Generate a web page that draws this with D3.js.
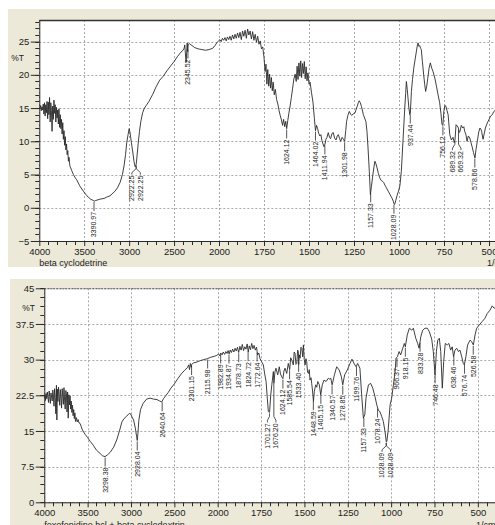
<!DOCTYPE html>
<html>
<head>
<meta charset="utf-8">
<script src="https://cdn.jsdelivr.net/npm/d3@7"></script>
<style>
  body { margin: 0; background: #fff; }
  svg { display: block; }
  text { font-family: "Liberation Sans", Arial, sans-serif; fill: #222; }
</style>
</head>
<body>
<svg id="chart" width="495" height="525"></svg>
<script>
// Wavenumber axis: 4000-2000 at half scale, 2000-400 at full scale
const wavenumberBreaks = [4000, 2000, 400];
const xTickValues = [4000, 3500, 3000, 2500, 2000, 1750, 1500, 1250, 1000, 750, 500];
const topYTicks = [-5, 0, 5, 10, 15, 20, 25];
const bottomYTicks = [0, 7.5, 15, 22.5, 30, 37.5, 45];
const topTitle = "beta cyclodetrine";
const bottomTitle = "fexofenidine hcl + beta cyclodextrin";
const axisUnit = "1/cm";
const yUnit = "%T";

// beta cyclodextrin spectrum: [wavenumber, %T]
const betaCdSpectrum = [
  [4000,15.1],[3992,14.9],[3985,15.4],[3978,14.6],[3970,15.2],[3963,14.7],[3956,15.6],[3949,14.1],[3942,15.8],[3935,13.8],
  [3928,15.5],[3921,14.3],[3914,16.0],[3907,13.4],[3900,15.9],[3893,14.0],[3886,16.6],[3879,12.9],[3872,15.8],[3865,14.6],
  [3858,11.5],[3851,15.3],[3844,13.3],[3837,16.2],[3830,14.2],[3823,15.5],[3816,12.9],[3809,15.1],[3802,13.5],[3795,14.7],
  [3788,12.6],[3781,14.9],[3774,12.1],[3767,14.0],[3760,11.9],[3753,13.3],[3746,11.1],[3739,12.8],[3732,10.3],[3725,11.6],
  [3718,9.4],[3711,10.7],[3704,8.7],[3697,9.6],[3690,8.0],[3683,8.6],[3676,7.0],[3669,7.6],[3660,6.3],[3650,6.0],
  [3640,5.6],[3620,5.0],[3600,4.5],[3583,4.2],[3550,3.3],[3510,2.5],[3470,1.8],[3430,1.3],[3400,1.1],[3388,1.0],
  [3370,1.1],[3324,1.3],[3280,1.4],[3250,1.6],[3213,1.8],[3157,2.5],[3130,3.0],[3101,3.8],[3075,5.0],[3057,6.3],
  [3040,8.0],[3027,9.8],[3012,11.0],[3000,11.9],[2990,11.3],[2975,9.8],[2960,8.4],[2945,6.9],[2934,6.2],[2922,6.5],
  [2912,7.8],[2900,9.6],[2885,11.5],[2870,13.0],[2850,14.3],[2830,15.0],[2809,15.4],[2780,16.0],[2740,17.0],[2700,18.2],
  [2660,19.2],[2620,19.8],[2580,20.6],[2540,21.3],[2500,22.0],[2460,22.8],[2425,23.4],[2400,23.7],[2388,24.0],[2381,24.5],
  [2376,23.6],[2370,22.4],[2365,21.9],[2360,23.3],[2354,24.8],[2348,23.5],[2342,24.6],[2330,24.7],[2300,24.4],[2270,24.1],
  [2230,23.9],[2190,23.8],[2150,23.7],[2110,23.8],[2070,24.0],[2045,24.4],[2020,24.9],[2005,25.1],
  [1995,25.3],[1988,25.0],[1981,25.5],[1974,25.2],[1967,25.6],[1960,25.1],[1953,25.7],[1946,25.3],[1939,25.8],[1932,25.2],
  [1925,26.0],[1918,25.4],[1911,26.1],[1904,25.5],[1897,26.3],[1890,25.6],[1883,26.4],[1876,25.3],[1869,26.6],[1862,25.8],
  [1855,26.7],[1848,25.5],[1841,26.9],[1834,26.0],[1827,26.6],[1820,25.4],[1813,26.5],[1806,25.2],[1799,26.1],[1792,24.9],
  [1785,25.8],[1778,24.6],[1771,25.1],[1764,23.9],[1757,24.2],[1750,22.6],[1744,20.5],[1739,21.6],[1734,18.6],[1729,20.8],
  [1724,18.3],[1719,20.1],[1714,18.0],[1709,19.6],[1704,17.6],[1699,18.9],[1693,17.0],[1687,17.8],[1680,16.3],[1673,15.6],
  [1666,14.6],[1660,13.9],[1653,13.2],[1647,12.4],[1641,13.3],[1635,12.2],[1629,13.0],[1624,11.9],[1618,13.1],[1612,14.2],
  [1605,15.3],[1598,16.6],[1591,18.0],[1584,19.4],[1577,20.1],[1571,19.0],[1566,21.3],[1561,19.3],[1556,21.8],[1551,19.8],
  [1546,22.1],[1541,19.6],[1536,21.7],[1531,20.2],[1526,22.0],[1521,19.4],[1516,21.2],[1511,19.1],[1506,20.3],[1500,18.6],
  [1494,18.9],[1486,17.3],[1478,15.9],[1470,13.4],[1464,11.6],[1458,12.4],[1452,11.9],[1446,11.2],[1440,10.8],[1434,11.0],
  [1428,10.1],[1422,9.6],[1417,9.2],[1411,9.6],[1406,10.3],[1400,10.6],[1393,11.3],[1386,10.6],[1380,10.4],[1372,11.2],
  [1365,11.3],[1358,10.5],[1350,10.2],[1343,10.8],[1337,11.0],[1330,10.4],[1324,10.0],[1316,10.6],[1309,10.3],[1302,10.0],
  [1296,11.6],[1291,13.0],[1284,13.9],[1276,14.5],[1269,14.1],[1263,13.9],[1255,14.1],[1244,14.3],[1238,14.8],[1232,15.3],
  [1226,15.8],[1221,16.1],[1215,15.8],[1208,15.2],[1198,14.0],[1184,13.0],[1178,11.5],[1172,9.0],[1165,5.5],[1159,2.0],
  [1153,3.2],[1147,4.6],[1140,6.0],[1134,7.0],[1128,6.6],[1122,6.0],[1115,5.2],[1107,4.5],[1099,4.1],[1092,4.0],
  [1085,3.8],[1078,3.4],[1070,3.0],[1060,2.5],[1050,2.0],[1040,1.5],[1032,1.0],[1028,0.6],[1024,0.5],[1018,1.1],
  [1011,1.8],[1003,2.5],[995,3.3],[987,5.5],[978,10.0],[968,15.0],[963,17.2],[959,19.0],[954,17.8],[950,16.5],
  [945,15.0],[940,14.0],[937,14.2],[931,17.5],[925,19.3],[918,21.0],[910,22.4],[903,23.6],[897,24.6],[894,24.8],
  [890,24.3],[885,24.4],[880,24.0],[876,23.8],[870,22.0],[863,20.0],[857,18.5],[852,17.5],[846,18.3],[840,19.5],
  [833,21.0],[826,21.8],[818,21.0],[811,20.5],[800,19.4],[792,18.3],[783,17.0],[774,15.8],[767,14.2],[761,12.5],
  [756,12.4],[751,14.5],[745,15.4],[740,15.3],[733,14.6],[727,14.0],[718,11.0],[709,10.2],[700,10.6],[693,9.8],
  [689,10.2],[683,12.5],[676,12.3],[670,12.0],[666,11.3],[661,11.5],[654,12.4],[646,12.0],[640,12.2],[635,11.5],
  [628,11.0],[622,10.0],[615,10.8],[607,10.5],[600,9.8],[594,9.2],[586,8.3],[578,7.5],[572,8.8],[565,10.0],
  [557,11.4],[550,12.0],[545,11.8],[541,11.5],[533,10.3],[526,11.2],[520,12.0],[512,12.6],[505,13.0],[491,13.8],
  [482,14.0],[473,14.5],[450,15.0],[420,15.5],[400,15.8]
];

const betaCdPeaks = ["3390.97","2922.25","2922.25","2345.52","1624.12","1464.02","1411.94","1301.98",
  "1157.33","1028.09","937.44","756.12","689.32","669.32","578.66"];

// fexofenadine HCl + beta cyclodextrin spectrum: [wavenumber, %T]
const blendSpectrum = [
  [4000,21.9],[3993,22.6],[3986,21.4],[3979,22.9],[3972,21.8],[3965,23.2],[3958,22.0],[3951,21.0],[3944,23.4],[3937,22.3],
  [3930,20.8],[3923,23.0],[3916,22.1],[3909,21.3],[3902,23.6],[3895,22.4],[3888,20.2],[3881,23.9],[3874,22.0],[3867,18.6],
  [3860,24.6],[3855,17.3],[3850,23.8],[3843,21.2],[3836,24.2],[3829,22.5],[3822,20.4],[3815,23.7],[3808,21.9],[3801,19.8],
  [3794,23.9],[3787,22.2],[3780,20.6],[3773,24.1],[3766,21.5],[3759,19.6],[3752,23.5],[3745,22.8],[3738,19.0],[3731,23.2],
  [3724,17.7],[3717,22.6],[3710,20.5],[3703,22.4],[3696,19.6],[3689,21.3],[3682,18.9],[3675,20.4],[3668,18.2],[3661,19.5],
  [3654,17.6],[3647,18.8],[3640,17.0],[3630,17.8],[3620,16.9],[3610,17.4],[3600,16.7],[3588,16.6],[3560,15.2],[3530,14.3],
  [3500,13.6],[3470,12.8],[3435,12.0],[3400,11.0],[3358,10.3],[3330,9.8],[3300,9.6],[3270,10.0],[3240,10.5],[3200,11.6],
  [3165,13.1],[3130,15.2],[3105,16.9],[3080,17.6],[3050,18.1],[3020,18.7],[3005,18.6],[2990,18.0],[2970,17.3],[2950,15.6],
  [2935,13.8],[2928,13.0],[2920,14.5],[2910,17.2],[2890,19.5],[2860,20.8],[2820,21.7],[2780,21.9],[2740,21.7],[2700,21.6],
  [2670,21.3],[2645,21.1],[2625,21.8],[2600,22.4],[2570,23.1],[2540,24.0],[2500,24.9],[2460,26.0],[2420,27.0],[2380,27.8],
  [2350,28.3],[2335,28.9],[2325,27.9],[2315,29.2],[2305,28.4],[2300,29.0],[2280,29.3],[2240,29.5],[2200,29.8],[2160,30.0],
  [2120,30.2],[2080,30.5],[2040,30.7],[2010,30.9],
  [1995,31.2],[1988,30.8],[1982,31.4],[1975,31.0],[1968,31.6],[1960,31.1],[1953,31.7],[1946,31.3],[1940,31.9],[1934,31.2],
  [1928,32.0],[1921,31.5],[1914,32.2],[1907,31.6],[1900,32.4],[1893,31.8],[1886,32.6],[1879,31.5],[1872,32.8],[1865,32.0],
  [1858,33.2],[1851,31.9],[1844,32.7],[1837,32.2],[1830,33.3],[1824,31.6],[1818,32.9],[1811,32.1],[1804,33.4],[1797,32.3],
  [1790,33.0],[1783,32.0],[1776,32.6],[1770,31.0],[1763,31.4],[1756,30.2],[1747,29.6],[1737,28.9],[1729,27.0],[1721,25.4],
  [1714,21.9],[1708,19.1],[1701,18.9],[1694,22.6],[1688,24.7],[1679,27.5],[1676,25.0],[1670,27.4],[1664,28.2],[1654,26.8],
  [1645,28.5],[1638,27.0],[1631,26.4],[1624,26.0],[1618,27.6],[1612,28.2],[1602,27.1],[1593,29.2],[1585,27.9],[1579,30.4],
  [1573,29.9],[1564,28.9],[1559,31.6],[1554,31.3],[1549,29.0],[1544,29.2],[1539,32.0],[1535,31.7],[1533,29.0],[1529,31.0],
  [1525,30.3],[1520,32.6],[1515,32.4],[1510,30.6],[1506,33.1],[1501,30.0],[1496,28.9],[1491,30.2],[1487,29.6],[1482,27.4],
  [1477,27.1],[1472,27.9],[1468,25.7],[1462,26.2],[1458,25.0],[1453,23.4],[1448,21.2],[1443,23.3],[1435,24.7],[1429,24.2],
  [1423,25.4],[1414,24.7],[1406,22.6],[1397,24.7],[1387,25.7],[1375,25.4],[1362,26.1],[1354,25.9],[1348,26.1],[1340,24.7],
  [1327,26.8],[1314,28.5],[1299,27.8],[1287,26.4],[1279,24.7],[1268,26.8],[1253,27.8],[1237,29.2],[1226,30.1],[1214,29.2],
  [1202,28.5],[1193,29.2],[1180,28.2],[1170,22.6],[1160,17.7],[1152,18.4],[1145,21.9],[1131,24.7],[1118,25.0],[1106,24.0],
  [1093,22.2],[1083,20.5],[1074,19.4],[1064,19.0],[1054,18.0],[1045,17.0],[1035,14.8],[1028,12.7],[1025,12.8],[1018,14.8],
  [1006,20.5],[997,21.9],[987,24.7],[977,27.5],[972,30.3],[964,30.6],[954,31.7],[945,31.0],[933,32.4],[924,33.4],
  [918,32.7],[907,35.2],[895,36.6],[881,36.2],[872,36.6],[858,34.5],[847,33.4],[839,32.4],[829,34.8],[818,36.2],
  [805,36.6],[791,36.6],[780,35.9],[766,34.3],[757,31.7],[747,26.8],[739,31.7],[731,34.1],[722,34.5],[714,31.7],
  [705,24.0],[697,29.6],[688,33.4],[676,33.1],[667,33.4],[657,32.0],[648,32.7],[640,30.6],[632,32.0],[622,32.4],
  [612,31.7],[603,32.0],[593,30.6],[584,29.2],[578,28.9],[569,30.6],[559,33.1],[545,34.1],[536,33.8],[526,33.1],
  [516,35.2],[507,36.6],[492,37.3],[475,38.0],[459,38.7],[446,39.7],[430,40.4],[417,41.3],[406,40.8],[400,41.0]
];

const blendPeaks = ["3298.38","2928.04","2640.64","2301.15","2115.98","1982.89","1934.87","1878.73","1824.72",
  "1772.64","1701.27","1676.20","1624.12","1585.54","1533.40","1448.59","1405.15","1340.57","1278.85","1199.76",
  "1157.33","1078.24","1028.09","1028.09","966.37","918.15","833.28","746.48","638.46","576.74","526.58"];

const svg = d3.select("#chart");
const PANEL_BG = "#ECE9D8";
const LINE = "#2a2a2a";

function drawPanel(cfg) {
  const g = svg.append("g");
  g.append("rect").attr("x", cfg.bgX).attr("y", cfg.bgY)
    .attr("width", 495 - cfg.bgX + 20).attr("height", cfg.bgH).attr("fill", PANEL_BG);

  const x = d3.scaleLinear().domain(wavenumberBreaks).range(cfg.xRange);
  const y = d3.scaleLinear().domain(cfg.yDomain).range([cfg.bottom, cfg.top]);
  const left = cfg.xRange[0];
  const right = cfg.xRange[2];

  // plotting area
  g.append("rect").attr("x", left).attr("y", cfg.top)
    .attr("width", right - left).attr("height", cfg.bottom - cfg.top).attr("fill", "#fff");

  // dashed grid
  const grid = g.append("g").attr("stroke", "#a8a8a8").attr("stroke-dasharray", "2,2").attr("stroke-width", 1);
  xTickValues.forEach(v => {
    grid.append("line").attr("x1", Math.round(x(v)) + 0.5).attr("x2", Math.round(x(v)) + 0.5)
      .attr("y1", cfg.top).attr("y2", cfg.bottom);
  });
  cfg.yTicks.forEach(v => {
    grid.append("line").attr("x1", left).attr("x2", right)
      .attr("y1", Math.round(y(v)) + 0.5).attr("y2", Math.round(y(v)) + 0.5);
  });

  // spectrum trace
  const clipId = "clip" + cfg.id;
  svg.append("defs").append("clipPath").attr("id", clipId)
    .append("rect").attr("x", left).attr("y", cfg.top - 1)
    .attr("width", right - left).attr("height", cfg.bottom - cfg.top + 1);
  const line = d3.line().x(d => x(d[0])).y(d => y(d[1]));
  g.append("path").datum(cfg.spectrum).attr("clip-path", `url(#${clipId})`)
    .attr("d", line).attr("fill", "none").attr("stroke", LINE).attr("stroke-width", 0.9)
    .attr("stroke-linejoin", "round");

  // peak labels, each hanging below its point on the trace
  const sorted = cfg.spectrum.slice().sort((a, b) => a[0] - b[0]);
  const bis = d3.bisector(d => d[0]).left;
  const valueAt = wn => {
    const i = Math.max(1, Math.min(sorted.length - 1, bis(sorted, wn)));
    const a = sorted[i - 1], b = sorted[i];
    const t = (wn - a[0]) / (b[0] - a[0]);
    return a[1] + t * (b[1] - a[1]);
  };
  const items = cfg.peaks.map(t => ({ t, x0: x(+t), y0: y(valueAt(+t)) }))
    .sort((a, b) => a.x0 - b.x0);
  const clusters = [];
  items.forEach(it => {
    const last = clusters[clusters.length - 1];
    if (last && it.x0 - last[last.length - 1].x0 < 5) last.push(it); else clusters.push([it]);
  });
  const pg = g.append("g");
  clusters.forEach(c => {
    const cx = d3.mean(c, d => d.x0);
    const yl = d3.max(c, d => d.y0);
    c.forEach((d, i) => {
      const xl = c.length > 1 ? cx + (i - (c.length - 1) / 2) * 8.5 : d.x0;
      const path = c.length > 1
        ? `M${d.x0},${d.y0 + 1}V${yl + 4}L${xl},${yl + 8}V${yl + 10}`
        : `M${d.x0},${d.y0 + 1}V${yl + 10}`;
      pg.append("path").attr("d", path).attr("fill", "none").attr("stroke", LINE).attr("stroke-width", 0.8);
      pg.append("text").attr("transform", `translate(${xl},${yl + 11}) rotate(-90)`)
        .attr("text-anchor", "end").attr("dy", "0.35em")
        .attr("font-size", 7).text(d.t);
    });
  });

  // left axis
  const yAxis = d3.axisLeft(y).tickValues(cfg.yTicks).tickSize(8.5).tickPadding(1.5)
    .tickFormat(d3.format(""));
  const ya = g.append("g").attr("transform", `translate(${left},0)`).call(yAxis);
  ya.select(".domain").remove();
  ya.selectAll(".tick line").attr("stroke", LINE);
  ya.selectAll(".tick text").attr("font-size", 9.5).attr("fill", "#222")
    .attr("font-family", "Liberation Sans, Arial, sans-serif");
  cfg.yMinor.forEach(v => {
    g.append("line").attr("x1", left - 4).attr("x2", left)
      .attr("y1", Math.round(y(v)) + 0.5).attr("y2", Math.round(y(v)) + 0.5).attr("stroke", LINE);
  });

  // bottom axis
  const xAxis = d3.axisBottom(x).tickValues(xTickValues).tickSize(5).tickPadding(2).tickFormat(d3.format(""));
  const xa = g.append("g").attr("transform", `translate(0,${cfg.bottom})`).call(xAxis);
  xa.select(".domain").remove();
  xa.selectAll(".tick line").attr("stroke", LINE);
  xa.selectAll(".tick text").attr("font-size", 9.5).attr("fill", "#222")
    .attr("font-family", "Liberation Sans, Arial, sans-serif");
  const minorX = d3.range(2100, 4000, 100).concat(d3.range(450, 2000, 50))
    .filter(v => !xTickValues.includes(v));
  minorX.forEach(v => {
    g.append("line").attr("x1", Math.round(x(v)) + 0.5).attr("x2", Math.round(x(v)) + 0.5)
      .attr("y1", cfg.bottom).attr("y2", cfg.bottom + 4).attr("stroke", LINE);
  });

  // frame lines
  g.append("line").attr("x1", left + 0.5).attr("x2", left + 0.5)
    .attr("y1", cfg.top).attr("y2", cfg.bottom).attr("stroke", LINE);
  g.append("line").attr("x1", left).attr("x2", right)
    .attr("y1", cfg.bottom + 0.5).attr("y2", cfg.bottom + 0.5).attr("stroke", LINE);
  const topLine = g.append("line").attr("x1", left).attr("x2", right)
    .attr("y1", cfg.top + 0.5).attr("y2", cfg.top + 0.5).attr("stroke", "#333");
  if (cfg.dashedTop) topLine.attr("stroke-dasharray", "2,1").attr("stroke", "#555");
  else topLine.attr("stroke-width", 1.5);

  // captions
  g.append("text").attr("x", cfg.yUnitX).attr("y", y(cfg.yUnitValue)).attr("dy", "0.35em")
    .attr("text-anchor", "end").attr("font-size", 8.5).text(yUnit);
  g.append("text").attr("x", left).attr("y", cfg.titleY).attr("font-size", 9).text(cfg.title);
  g.append("text").attr("x", cfg.unitX).attr("y", cfg.titleY).attr("font-size", 9).text(axisUnit);
}

drawPanel({
  id: "top", bgX: 8, bgY: 9, bgH: 258,
  xRange: [39.3, 219, 507], top: 20, bottom: 241, yDomain: [-5, 28.25],
  yTicks: topYTicks, yMinor: d3.range(-5, 28.01, 1),
  spectrum: betaCdSpectrum, peaks: betaCdPeaks,
  yUnitX: 24, yUnitValue: 22.5, title: topTitle, titleY: 266, unitX: 487, dashedTop: false
});

drawPanel({
  id: "bottom", bgX: 10, bgY: 279, bgH: 260,
  xRange: [44.3, 217.7, 495.2], top: 288.3, bottom: 502.3, yDomain: [0, 45],
  yTicks: bottomYTicks, yMinor: d3.range(0, 45.01, 1.875),
  spectrum: blendSpectrum, peaks: blendPeaks,
  yUnitX: 35, yUnitValue: 40.9, title: bottomTitle, titleY: 528, unitX: 476, dashedTop: true
});
</script>
</body>
</html>
